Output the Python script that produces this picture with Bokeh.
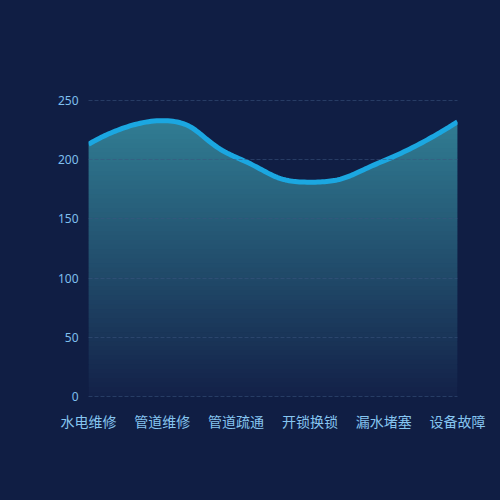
import numpy as np
from bokeh.plotting import figure
from bokeh.models import FixedTicker, Range1d
from bokeh.embed import file_html
from bokeh.resources import INLINE

categories = ["水电维修", "管道维修", "管道疏通", "开锁换锁", "漏水堵塞", "设备故障"]
values = [213, 233, 202, 181, 199, 232]
y_ticks = [0, 50, 100, 150, 200, 250]

BG = "#101e44"
LINE = "#1ba7e1"
TOP_RGB = (0x31, 0x7d, 0x93)
BOT_RGB = (0x13, 0x21, 0x48)

W, H = 500, 500
PADPX = 2
ML, MR, MT, MB = 88, 43, 100 - PADPX, 104 - PADPX
YMAX = 250
PLOT_H = 296
sx = (W - ML - MR) / (len(categories) - 1)
sy = PLOT_H / YMAX
pad_u = PADPX / sy


def smooth_curve(xs, ys, smooth=0.5, n=40):
    # ECharts-like smooth line rendering in pixel space
    px = [x * sx for x in xs]
    py = [y * sy for y in ys]
    out_x, out_y = [px[0]], [py[0]]
    cpx0, cpy0 = px[0], py[0]
    m = len(px)
    for i in range(1, m):
        x, y = px[i], py[i]
        prevX, prevY = px[i - 1], py[i - 1]
        if i == m - 1:
            cpx1, cpy1 = x, y
            ncx, ncy = x, y
        else:
            nextX, nextY = px[i + 1], py[i + 1]
            vx, vy = nextX - prevX, nextY - prevY
            dx0, dy0 = x - prevX, y - prevY
            dx1, dy1 = nextX - x, nextY - y
            lp = np.hypot(dx0, dy0)
            ln = np.hypot(dx1, dy1)
            r = ln / (ln + lp)
            ncx = x + vx * smooth * r
            ncy = y + vy * smooth * r
            ncx = min(ncx, max(nextX, x)); ncy = min(ncy, max(nextY, y))
            ncx = max(ncx, min(nextX, x)); ncy = max(ncy, min(nextY, y))
            vx, vy = ncx - x, ncy - y
            cpx1 = x - vx * lp / ln
            cpy1 = y - vy * lp / ln
            cpx1 = min(cpx1, max(prevX, x)); cpy1 = min(cpy1, max(prevY, y))
            cpx1 = max(cpx1, min(prevX, x)); cpy1 = max(cpy1, min(prevY, y))
            vx, vy = x - cpx1, y - cpy1
            ncx = x + vx * ln / lp
            ncy = y + vy * ln / lp
        t = np.linspace(0, 1, n)[1:]
        bx = (1 - t) ** 3 * prevX + 3 * (1 - t) ** 2 * t * cpx0 + 3 * (1 - t) * t ** 2 * cpx1 + t ** 3 * x
        by = (1 - t) ** 3 * prevY + 3 * (1 - t) ** 2 * t * cpy0 + 3 * (1 - t) * t ** 2 * cpy1 + t ** 3 * y
        out_x.extend(bx); out_y.extend(by)
        cpx0, cpy0 = ncx, ncy
    return np.array(out_x) / sx, np.array(out_y) / sy


xs = list(range(len(categories)))
cx, cy = smooth_curve(xs, values)

p = figure(width=W, height=H, output_backend="svg", toolbar_location=None,
           x_range=Range1d(0, len(categories) - 1), y_range=Range1d(-pad_u, YMAX + pad_u),
           min_border_left=ML, min_border_right=MR, min_border_top=MT, min_border_bottom=MB)
p.background_fill_color = None
p.border_fill_color = None
p.outline_line_color = None
p.styles = {"background-color": BG}

# vertical gradient fill under the curve: overlapping horizontal band polygons
vmax = float(max(values))
nb = 60
edges = np.linspace(0, vmax, nb + 1)
step = edges[1] - edges[0]
band_xs, band_ys, cols = [], [], []
for i in range(nb):
    a, b = edges[i], edges[i + 1] + step
    top = np.clip(cy, a, b)
    band_xs.append(list(cx) + list(cx[::-1]))
    band_ys.append([a] * len(cx) + list(top[::-1]))
    f = (edges[i] + edges[i + 1]) / 2 / vmax
    c = tuple(int(round(BOT_RGB[k] + f * (TOP_RGB[k] - BOT_RGB[k]))) for k in range(3))
    cols.append("#%02x%02x%02x" % c)
p.patches(band_xs, band_ys, fill_color=cols, line_color=None)

p.line(cx, cy, line_color=LINE, line_width=5, line_join="round", line_cap="butt")

# axes
p.xaxis.ticker = FixedTicker(ticks=xs)
p.xaxis.major_label_overrides = {i: c for i, c in enumerate(categories)}
p.xaxis.axis_line_color = None
p.xaxis.major_tick_line_color = None
p.xaxis.minor_tick_line_color = None
p.xaxis.major_label_text_color = "#86c5f0"
p.xaxis.major_label_text_font = "Noto Sans CJK SC"
p.xaxis.major_label_text_font_size = "14px"
p.xaxis.major_label_standoff = 6

p.yaxis.ticker = FixedTicker(ticks=y_ticks)
p.yaxis.axis_line_color = None
p.yaxis.major_tick_line_color = None
p.yaxis.minor_tick_line_color = None
p.yaxis.major_label_text_color = "#7fbfee"
p.yaxis.major_label_text_font = "Noto Sans"
p.yaxis.major_label_text_font_size = "12px"
p.yaxis.major_label_standoff = 4

p.xgrid.grid_line_color = None
p.ygrid.ticker = FixedTicker(ticks=y_ticks)
p.ygrid.grid_line_color = "#3a5580"
p.ygrid.grid_line_alpha = 0.55
p.ygrid.grid_line_dash = "4 2"
p.ygrid.grid_line_width = 1
p.ygrid.level = "overlay"

open("out.html", "w").write(file_html(p, INLINE))
